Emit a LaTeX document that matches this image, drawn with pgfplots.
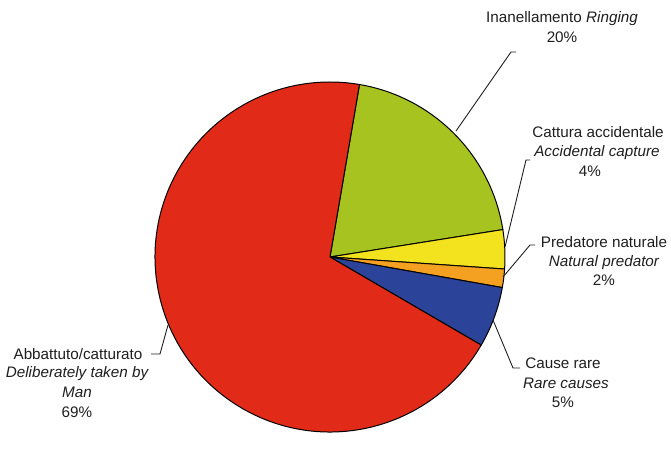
\documentclass[border=0pt]{standalone}
\usepackage{pgfplots}
\pgfplotsset{compat=1.18}
\usepackage{fontspec}
\setmainfont{Liberation Sans}

\definecolor{cred}{RGB}{225,42,24}
\definecolor{cgreen}{RGB}{166,195,31}
\definecolor{cyellow}{RGB}{243,227,31}
\definecolor{corange}{RGB}{244,160,33}
\definecolor{cblue}{RGB}{43,68,154}
\definecolor{ctext}{RGB}{30,30,30}

% shares in percent, clockwise from the top
\def\vRing{19.8}
\def\vAcc{3.6}
\def\vPred{1.7}
\def\vRare{5.6}
\def\vMan{69.3}

\newcommand\lf{\fontsize{15.3}{18}\selectfont}
\tikzset{lab/.style={text=ctext,font=\lf,anchor=base,inner sep=0pt},
  lead/.style={ctext,line width=0.9pt}}

\newcommand\slice[3]{%
  \fill[#3,draw=black,line width=1pt,line join=round]
    (axis cs:330,181) -- (axis cs:{330+175*cos(#1)},{181+175*sin(#1)})
    arc[start angle=#1,end angle=#2,radius=175bp] -- cycle;}

\begin{document}
\begin{tikzpicture}
\pgfmathsetmacro\aA{80.3}
\pgfmathsetmacro\aB{\aA-3.6*\vRing}
\pgfmathsetmacro\aC{\aB-3.6*\vAcc}
\pgfmathsetmacro\aD{\aC-3.6*\vPred}
\pgfmathsetmacro\aE{\aD-3.6*\vRare}
\pgfmathsetmacro\aF{\aE-3.6*\vMan}
\begin{axis}[x=1bp,y=1bp,xmin=0,xmax=671,ymin=0,ymax=438,
  hide axis,clip=false]
\path (axis cs:0,0) rectangle (axis cs:671,438);

\slice{\aA}{\aB}{cgreen}
\slice{\aB}{\aC}{cyellow}
\slice{\aC}{\aD}{corange}
\slice{\aD}{\aE}{cblue}
\slice{\aE}{\aF}{cred}

% leader lines
\draw[lead] (axis cs:456,307) -- (axis cs:511,386) -- (axis cs:516,386);
\draw[lead] (axis cs:505,191) -- (axis cs:526,278) -- (axis cs:530,278);
\draw[lead] (axis cs:503,161) -- (axis cs:530,193) -- (axis cs:535,193);
\draw[lead] (axis cs:493,118) -- (axis cs:513,70) -- (axis cs:520,70);
\draw[lead] (axis cs:168,113) -- (axis cs:160,84) -- (axis cs:151,84);

% labels
\node[lab] at (axis cs:562,415) {\lf Inanellamento \textit{Ringing}};
\node[lab] at (axis cs:562,395) {\lf 20\%};

\node[lab] at (axis cs:598,300) {\lf Cattura accidentale};
\node[lab] at (axis cs:597,281) {\lf\itshape Accidental capture};
\node[lab] at (axis cs:590,261) {\lf 4\%};

\node[lab] at (axis cs:604,191) {\lf Predatore naturale};
\node[lab] at (axis cs:604,172) {\lf\itshape Natural predator};
\node[lab] at (axis cs:604,153) {\lf 2\%};

\node[lab] at (axis cs:563,70) {\lf Cause rare};
\node[lab] at (axis cs:566,50) {\lf\itshape Rare causes};
\node[lab] at (axis cs:563,31) {\lf 5\%};

\node[lab] at (axis cs:78,79) {\lf Abbattuto/catturato};
\node[lab] at (axis cs:77,61) {\lf\itshape Deliberately taken by};
\node[lab] at (axis cs:77,41) {\lf\itshape Man};
\node[lab] at (axis cs:77,21) {\lf 69\%};
\end{axis}
\end{tikzpicture}
\end{document}
